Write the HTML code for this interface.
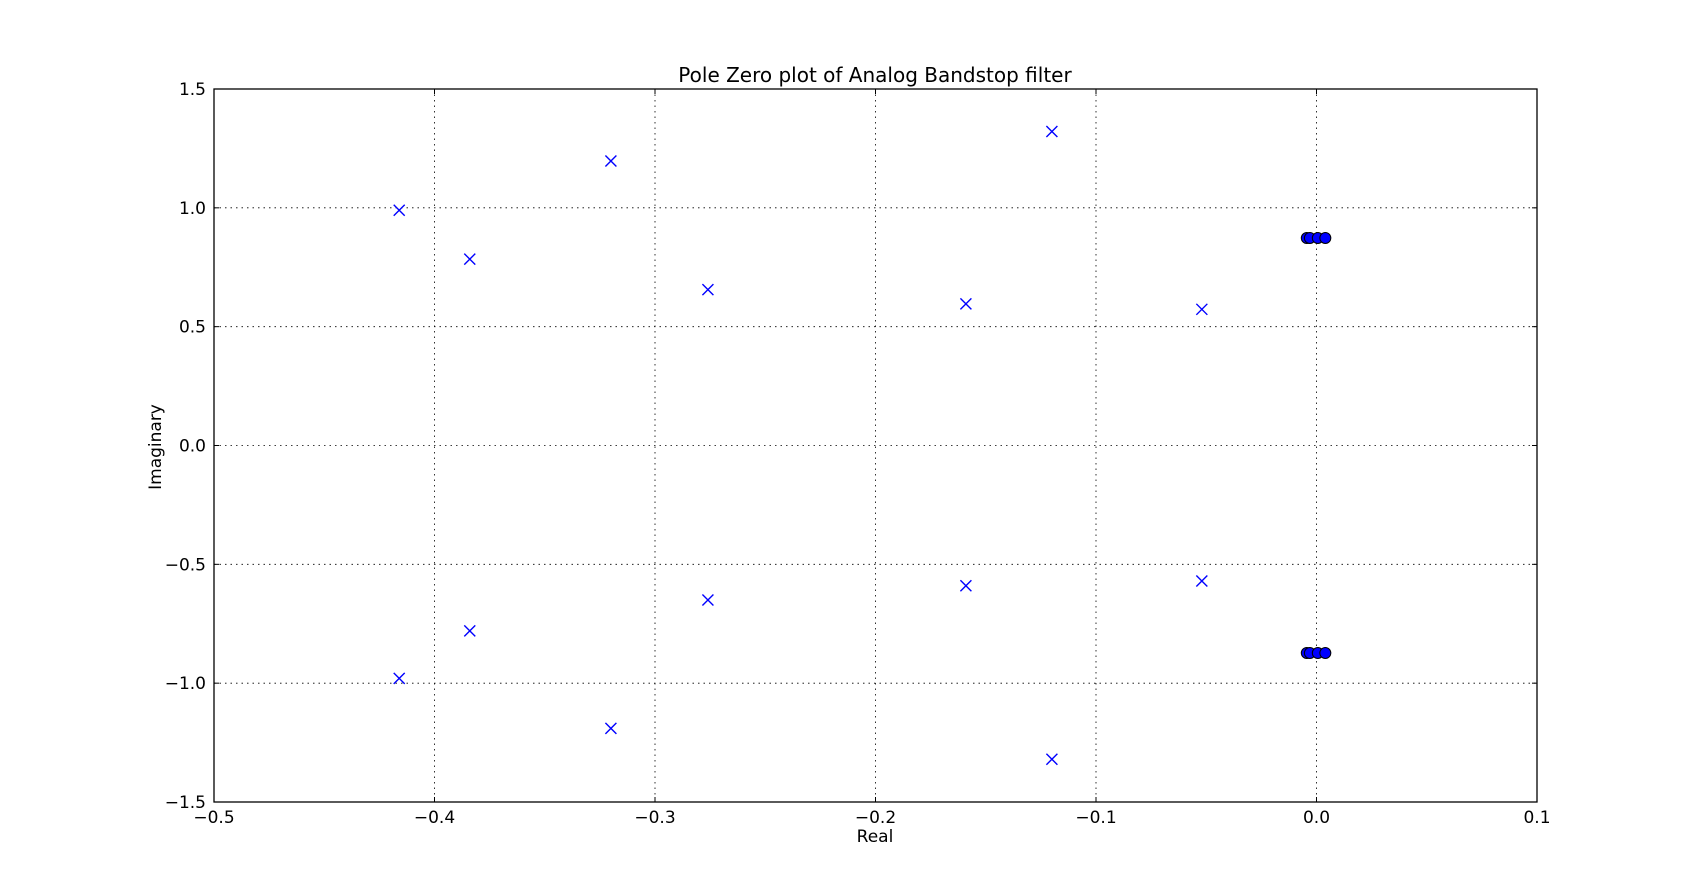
<!DOCTYPE html>
<html><head><meta charset="utf-8"><style>
html,body{margin:0;padding:0;background:#fff;}
svg{display:block;font-family:"DejaVu Sans","Liberation Sans",sans-serif;}
</style></head><body>
<svg id="chart" width="1707" height="891" viewBox="0 0 1707 891" xmlns="http://www.w3.org/2000/svg">
<rect width="1707" height="891" fill="#fff"/>
<g id="grid"></g>
<g id="ticks"></g>
<g id="marks"></g>
<rect x="214" y="89" width="1323" height="713" fill="none" stroke="#000" stroke-width="1.3"/>
<text x="875" y="82" font-size="20" text-anchor="middle">Pole Zero plot of Analog Bandstop filter</text>
<text x="875" y="842" font-size="17" text-anchor="middle">Real</text>
<text x="161" y="447" font-size="17" text-anchor="middle" transform="rotate(-90 161 447)">Imaginary</text>
</svg>
<script>
const xTicks = [-0.5, -0.4, -0.3, -0.2, -0.1, 0.0, 0.1];
const xTickLabels = ["\u22120.5","\u22120.4","\u22120.3","\u22120.2","\u22120.1","0.0","0.1"];
const yTicks = [-1.5, -1.0, -0.5, 0.0, 0.5, 1.0, 1.5];
const yTickLabels = ["\u22121.5","\u22121.0","\u22120.5","0.0","0.5","1.0","1.5"];
const poleReal = [-0.416,-0.384,-0.320,-0.276,-0.159,-0.120,-0.052,-0.416,-0.384,-0.320,-0.276,-0.159,-0.120,-0.052];
const poleImag = [0.99,0.784,1.197,0.656,0.596,1.321,0.573,-0.98,-0.78,-1.19,-0.65,-0.59,-1.32,-0.57];
const zeroReal = [-0.0044,-0.003,0.0006,0.004,-0.0044,-0.003,0.0006,0.004];
const zeroImag = [0.873,0.873,0.873,0.873,-0.873,-0.873,-0.873,-0.873];

const L=214,R=1537,T=89,B=802;
const xMin=-0.5,xMax=0.1,yMin=-1.5,yMax=1.5;
const sx=v=>L+(v-xMin)/(xMax-xMin)*(R-L);
const sy=v=>B-(v-yMin)/(yMax-yMin)*(B-T);
const NS="http://www.w3.org/2000/svg";
function mk(tag,attrs,parent){const e=document.createElementNS(NS,tag);for(const k in attrs)e.setAttribute(k,attrs[k]);parent.appendChild(e);return e;}
const grid=document.getElementById('grid'),ticks=document.getElementById('ticks'),marks=document.getElementById('marks');
xTicks.forEach((v,i)=>{
  const x=sx(v);
  const g=mk('line',{x1:x,x2:x,y1:T,y2:B,stroke:'#000','stroke-width':0.8,'stroke-dasharray':'1.5,4'},grid);
  
  
  mk('line',{x1:x,x2:x,y1:B,y2:B-5,stroke:'#000','stroke-width':1},ticks);
  mk('line',{x1:x,x2:x,y1:T,y2:T+5,stroke:'#000','stroke-width':1},ticks);
  const t=mk('text',{x:x,y:B+21,'font-size':17,'text-anchor':'middle'},ticks);
  t.textContent=xTickLabels[i];
  
  
});
yTicks.forEach((v,i)=>{
  const y=sy(v);
  const g=mk('line',{x1:L,x2:R,y1:y,y2:y,stroke:'#000','stroke-width':0.8,'stroke-dasharray':'1.5,4'},grid);
  
  
  mk('line',{x1:L,x2:L+5,y1:y,y2:y,stroke:'#000','stroke-width':1},ticks);
  mk('line',{x1:R,x2:R-5,y1:y,y2:y,stroke:'#000','stroke-width':1},ticks);
  const t=mk('text',{x:L-8,y:y+6,'font-size':17,'text-anchor':'end'},ticks);
  t.textContent=yTickLabels[i];
  
  
});
poleReal.forEach((v,i)=>{
  const x=sx(v),y=sy(poleImag[i]),s=5.5;
  const p=mk('path',{d:`M${x-s},${y-s}L${x+s},${y+s}M${x-s},${y+s}L${x+s},${y-s}`,stroke:'#0000ff','stroke-width':1.4,fill:'none'},marks);
  
  
});
zeroReal.forEach((v,i)=>{
  const c=mk('circle',{cx:sx(v),cy:sy(zeroImag[i]),r:5.5,fill:'#0000ff',stroke:'#000','stroke-width':1},marks);
  
  
});
</script>
</body></html>
